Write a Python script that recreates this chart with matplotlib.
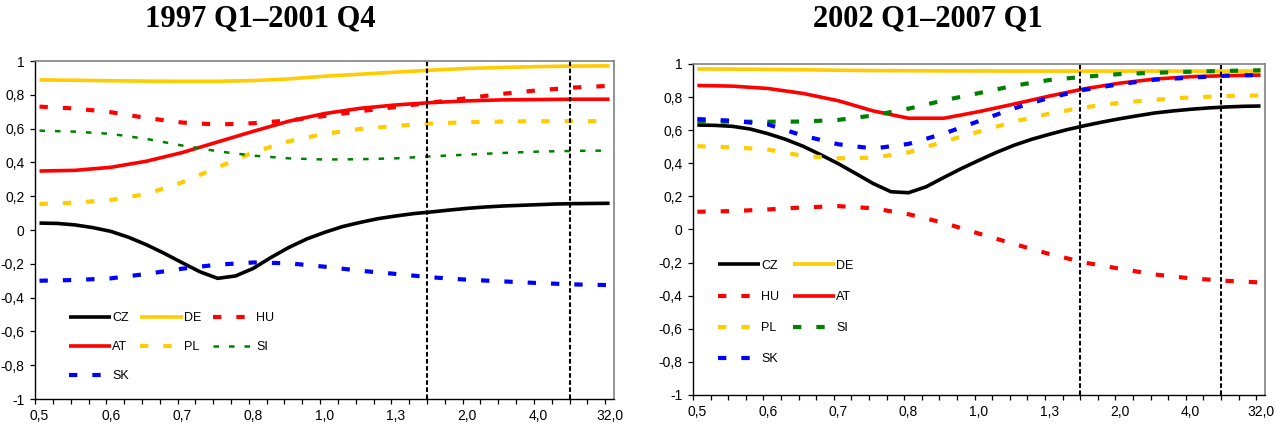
import numpy as np
import matplotlib
matplotlib.use('Agg')
import matplotlib.pyplot as plt
from matplotlib.ticker import FixedLocator

plt.rcParams['font.family'] = ['Liberation Sans', 'DejaVu Sans']

# categories along the x axis (65 frequency points), labels every 8th
n_cat = 65
x_labels = ['0,5', '0,6', '0,7', '0,8', '1,0', '1,3', '2,0', '4,0', '32,0']
y_vals = [-1, -0.8, -0.6, -0.4, -0.2, 0, 0.2, 0.4, 0.6, 0.8, 1]
y_labels = ['-1', '-0,8', '-0,6', '-0,4', '-0,2', '0', '0,2', '0,4', '0,6', '0,8', '1']
# values were read at every 4th category (every 2nd for CZ, which bends more)
cat_read = np.arange(0, 65, 4)
cat_read_cz = np.arange(0, 65, 2)
# business-cycle band edges (category boundaries)
band_edges = [43.5, 59.5]

countries = ['CZ', 'DE', 'HU', 'AT', 'PL', 'SI', 'SK']

# 1997 Q1-2001 Q4
cz_a = [0.041, 0.039, 0.030, 0.014, -0.008, -0.043, -0.087, -0.138, -0.193, -0.247, -0.286, -0.272, -0.227,
        -0.162, -0.103, -0.053, -0.014, 0.020, 0.045, 0.067, 0.083, 0.097, 0.107, 0.118, 0.128, 0.136,
        0.142, 0.146, 0.150, 0.154, 0.156, 0.157, 0.158]
de_a = [0.888, 0.886, 0.883, 0.881, 0.880, 0.880, 0.884, 0.894, 0.910, 0.922, 0.934, 0.946, 0.956, 0.962, 0.967, 0.970, 0.971]
hu_a = [0.730, 0.719, 0.697, 0.663, 0.636, 0.624, 0.632, 0.648, 0.675, 0.703, 0.728, 0.754, 0.780, 0.806, 0.827, 0.843, 0.853]
at_a = [0.349, 0.353, 0.371, 0.407, 0.458, 0.521, 0.584, 0.644, 0.689, 0.720, 0.740, 0.754, 0.764, 0.770, 0.772, 0.774, 0.774]
pl_a = [0.154, 0.162, 0.178, 0.213, 0.282, 0.371, 0.460, 0.525, 0.569, 0.598, 0.616, 0.630, 0.638, 0.642, 0.644, 0.644, 0.644]
si_a = [0.588, 0.582, 0.569, 0.539, 0.500, 0.466, 0.440, 0.424, 0.417, 0.419, 0.424, 0.436, 0.446, 0.456, 0.464, 0.468, 0.470]
sk_a = [-0.300, -0.296, -0.286, -0.260, -0.229, -0.205, -0.192, -0.197, -0.217, -0.241, -0.260, -0.280, -0.294, -0.304, -0.314, -0.322, -0.326]

# 2002 Q1-2007 Q1
cz_b = [0.631, 0.629, 0.623, 0.607, 0.579, 0.545, 0.503, 0.452, 0.398, 0.338, 0.277, 0.228, 0.222,
        0.258, 0.314, 0.368, 0.418, 0.466, 0.509, 0.545, 0.575, 0.603, 0.627, 0.649, 0.669, 0.687,
        0.704, 0.716, 0.726, 0.734, 0.740, 0.744, 0.746]
de_b = [0.970, 0.969, 0.967, 0.965, 0.962, 0.960, 0.959, 0.958, 0.958, 0.957, 0.957, 0.957, 0.957, 0.957, 0.957, 0.957, 0.957]
hu_b = [0.107, 0.111, 0.121, 0.133, 0.141, 0.128, 0.092, 0.040, -0.025, -0.088, -0.148, -0.200, -0.237, -0.272, -0.295, -0.310, -0.320]
at_b = [0.870, 0.866, 0.852, 0.822, 0.778, 0.716, 0.672, 0.672, 0.712, 0.758, 0.806, 0.850, 0.884, 0.909, 0.923, 0.929, 0.933]
pl_b = [0.503, 0.497, 0.483, 0.445, 0.430, 0.434, 0.466, 0.531, 0.591, 0.652, 0.700, 0.738, 0.766, 0.784, 0.798, 0.806, 0.810]
si_b = [0.653, 0.651, 0.651, 0.652, 0.662, 0.689, 0.730, 0.780, 0.824, 0.869, 0.903, 0.923, 0.939, 0.947, 0.953, 0.958, 0.962]
sk_b = [0.667, 0.657, 0.635, 0.567, 0.515, 0.489, 0.517, 0.579, 0.655, 0.732, 0.796, 0.844, 0.878, 0.905, 0.917, 0.929, 0.933]

panel_a = dict(zip(countries, [cz_a, de_a, hu_a, at_a, pl_a, si_a, sk_a]))
panel_b = dict(zip(countries, [cz_b, de_b, hu_b, at_b, pl_b, si_b, sk_b]))

sq = (0, (2.0, 3.6))
STY_A = {
    'CZ': dict(color='black', lw=2.6, ls='-'),
    'DE': dict(color='#FFCC00', lw=2.6, ls='-'),
    'HU': dict(color='#FF0000', lw=3.0, ls=sq),
    'AT': dict(color='#FF0000', lw=2.6, ls='-'),
    'PL': dict(color='#FFCC00', lw=3.0, ls=sq),
    'SI': dict(color='#008000', lw=1.8, ls=(0, (2.2, 4.0))),
    'SK': dict(color='#0000FF', lw=3.0, ls=sq),
}
STY_B = dict(STY_A)
STY_B['SI'] = dict(color='#008000', lw=3.0, ls=sq)


def draw(ax, data, sty, order, ncol, loc_xy, colsp, lsp):
    lines = {}
    for c in countries:
        s = sty[c]
        xs = cat_read_cz if c == 'CZ' else cat_read
        ln, = ax.plot(xs, data[c], color=s['color'], lw=s['lw'],
                      linestyle=s['ls'], label=c, solid_capstyle='butt')
        lines[c] = ln
    for e in band_edges:
        ax.axvline(e, color='black', lw=1.5, linestyle=(0, (2.2, 1.2)))
    ax.set_xlim(-0.5, n_cat - 0.5)
    ax.set_ylim(-1, 1)
    ax.set_yticks(y_vals)
    ax.set_yticklabels(y_labels, fontsize=10)
    ax.set_xticks(np.arange(0, n_cat, 8))
    ax.set_xticklabels(x_labels, fontsize=10)
    ax.xaxis.set_minor_locator(FixedLocator(np.arange(-0.5, n_cat - 1, 2)))
    ax.tick_params(axis='x', which='major', length=0, pad=7)
    ax.tick_params(axis='x', which='minor', length=3.5, width=0.9, direction='out')
    ax.tick_params(axis='y', length=3.5, width=0.9, pad=4, direction='out')
    for sp in ['left', 'bottom']:
        ax.spines[sp].set_color('black')
        ax.spines[sp].set_linewidth(1.0)
    for sp in ['top', 'right']:
        ax.spines[sp].set_color('#808080')
        ax.spines[sp].set_linewidth(1.2)
    ax.legend([lines[c] for c in order], order, ncol=ncol, frameon=False,
              fontsize=9, loc='lower left', bbox_to_anchor=loc_xy,
              borderpad=0, borderaxespad=0, handlelength=3.4,
              handletextpad=0.1, columnspacing=colsp, labelspacing=lsp)


fig = plt.figure(figsize=(12.75, 4.29), dpi=100)
ax1 = fig.add_axes([0.0275, 0.0699, 0.4541, 0.7879])
ax2 = fig.add_axes([0.5435, 0.0793, 0.4486, 0.7716])

draw(ax1, panel_a, STY_A, ['CZ', 'AT', 'SK', 'DE', 'PL', 'HU', 'SI'], 3,
     (0.058, 0.05), 0.9, 1.35)
draw(ax2, panel_b, STY_B, ['CZ', 'HU', 'PL', 'SK', 'DE', 'AT', 'SI'], 2,
     (0.043, 0.09), 1.05, 1.53)

fig.text(260 / 1275, 1 - 19 / 429, '1997 Q1\u20132001 Q4', ha='center', va='center',
         fontsize=22, fontweight='bold', family='Liberation Serif')
fig.text(928 / 1275, 1 - 19 / 429, '2002 Q1\u20132007 Q1', ha='center', va='center',
         fontsize=22, fontweight='bold', family='Liberation Serif')

fig.savefig('out.png', dpi=100)
